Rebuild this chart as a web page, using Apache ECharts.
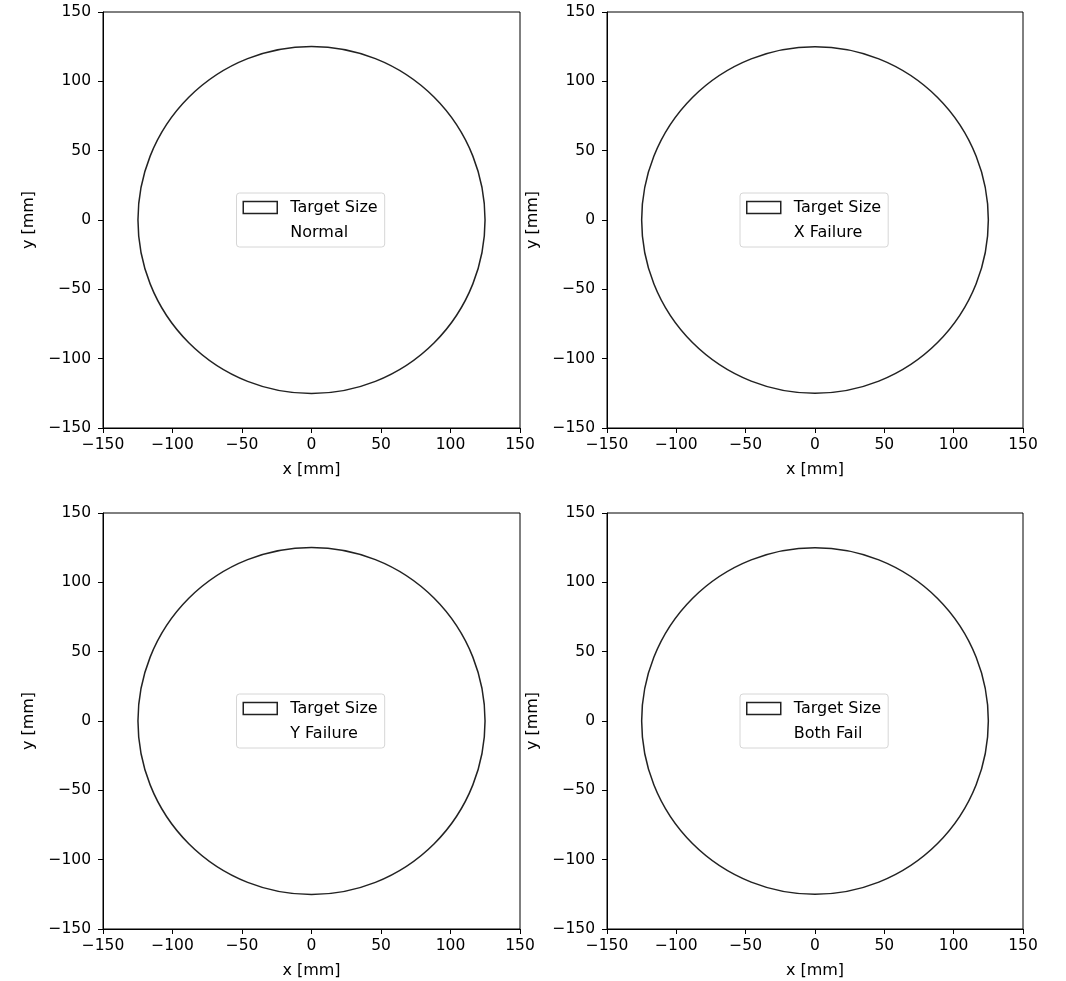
<!DOCTYPE html>
<html>
<head>
<meta charset="utf-8">
<script src="https://cdn.jsdelivr.net/npm/echarts@6/dist/echarts.min.js"></script>
<style>
html,body{margin:0;padding:0;background:#fff;}
#chart{width:1066px;height:981px;}
</style>
</head>
<body>
<div id="chart"></div>
<script>
// ---- data ----
const panelLabels = ['Normal', 'X Failure', 'Y Failure', 'Both Fail'];
const targetName = 'Target Size';
const targetCircle = [0, 0, 125]; // centre x, centre y, radius (mm)
const axisMin = -150;
const axisMax = 150;
const axisInterval = 50;
const xAxisName = 'x [mm]';
const yAxisName = 'y [mm]';

// ---- layout ----
const grids = [
  {left: 103, top: 12, width: 417, height: 416},
  {left: 607, top: 12, width: 416, height: 416},
  {left: 103, top: 513, width: 417, height: 416},
  {left: 607, top: 513, width: 416, height: 416}
];
const FONT = 'DejaVu Sans';
const INK = '#000';
const TICK_FS = 15.5;
const TEXT_FS = 16;
const fmt = v => String(v).replace('-', '\u2212');

const chart = echarts.init(document.getElementById('chart'), null, {renderer: 'canvas'});

const option = {
  backgroundColor: '#fff',
  animation: false,
  textStyle: {fontFamily: FONT},
  grid: grids.map(g => Object.assign({show: true, borderColor: INK, borderWidth: 1, backgroundColor: 'transparent', containLabel: false}, g)),
  xAxis: grids.map((g, i) => ({
    gridIndex: i, type: 'value', min: axisMin, max: axisMax, interval: axisInterval,
    name: xAxisName, nameLocation: 'middle', nameGap: 34,
    nameTextStyle: {color: INK, fontSize: TEXT_FS, fontFamily: FONT},
    axisLine: {show: true, onZero: false, lineStyle: {color: INK, width: 1}},
    axisTick: {show: true, inside: false, length: 5, lineStyle: {color: INK}},
    axisLabel: {color: INK, fontSize: TICK_FS, fontFamily: FONT, margin: 9, formatter: fmt, showMinLabel: true, showMaxLabel: true},
    splitLine: {show: false}
  })),
  yAxis: grids.map((g, i) => ({
    gridIndex: i, type: 'value', min: axisMin, max: axisMax, interval: axisInterval,
    name: yAxisName, nameLocation: 'middle', nameGap: 66, nameRotate: 90,
    nameTextStyle: {color: INK, fontSize: TEXT_FS, fontFamily: FONT},
    axisLine: {show: true, onZero: false, lineStyle: {color: INK, width: 1}},
    axisTick: {show: true, inside: false, length: 5, lineStyle: {color: INK}},
    axisLabel: {color: INK, fontSize: TICK_FS, fontFamily: FONT, margin: 12, formatter: fmt, showMinLabel: true, showMaxLabel: true},
    splitLine: {show: false}
  })),
  legend: grids.map((g, i) => ({
    orient: 'vertical',
    left: g.left + g.width / 2 - 75,
    top: g.top + g.height / 2 - 27,
    padding: [5, 7, 5, 6],
    itemGap: 6,
    itemWidth: 34,
    itemHeight: 12,
    selectedMode: false,
    backgroundColor: 'rgba(255,255,255,0.8)',
    borderColor: '#d6d6d6',
    borderWidth: 1,
    borderRadius: 3,
    textStyle: {color: INK, fontSize: TEXT_FS, fontFamily: FONT, lineHeight: 19, padding: [0, 0, 0, 8]},
    data: [
      {name: targetName, icon: 'rect', itemStyle: {color: '#fff', borderColor: '#222', borderWidth: 1.5}},
      {name: panelLabels[i], icon: 'rect', itemStyle: {opacity: 0, color: 'transparent', borderWidth: 0}}
    ]
  })),
  series: []
};

grids.forEach((g, i) => {
  option.series.push({
    type: 'custom',
    name: targetName,
    xAxisIndex: i, yAxisIndex: i,
    coordinateSystem: 'cartesian2d',
    itemStyle: {color: '#222'},
    data: [targetCircle],
    encode: {x: 0, y: 1},
    silent: true,
    renderItem: function (params, api) {
      const c = api.coord([api.value(0), api.value(1)]);
      const s = api.size([api.value(2), api.value(2)]);
      return {
        type: 'circle',
        shape: {cx: c[0], cy: c[1], r: (s[0] + s[1]) / 2},
        style: {fill: 'none', stroke: '#222', lineWidth: 1.5}
      };
    }
  });
  option.series.push({
    type: 'line',
    name: panelLabels[i],
    xAxisIndex: i, yAxisIndex: i,
    data: [],
    silent: true
  });
});

chart.setOption(option);
</script>
</body>
</html>
